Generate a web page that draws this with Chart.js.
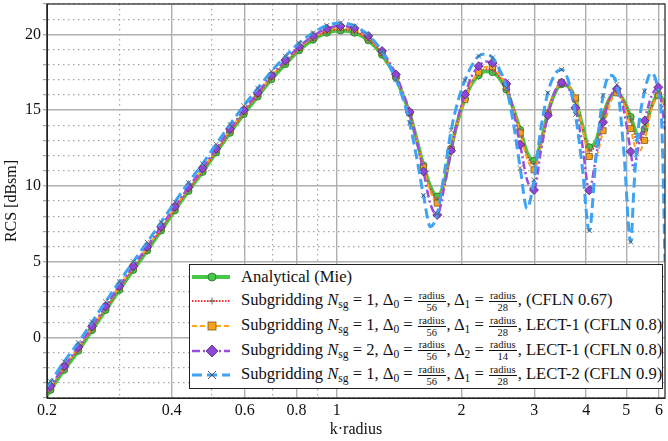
<!DOCTYPE html>
<html>
<head>
<meta charset="utf-8">
<script src="https://cdn.jsdelivr.net/npm/chart.js@4.4.1/dist/chart.umd.min.js"></script>
<style>
    body { margin: 0; background: #fff; }
    #wrap { position: relative; width: 668px; height: 441px; }
    #legend {
        position: absolute; left: 189px; top: 264px; width: 472px; height: 123px;
        border: 1.5px solid #222; background: #fff;
        font-family: "Liberation Serif", "Times New Roman", "DejaVu Serif", serif; font-size: 16.6px; color: #111;
    }
    .row { position: absolute; left: 0; height: 24px; display: flex; align-items: center; white-space: nowrap; }
    .row svg { margin-left: 2px; margin-right: 11px; flex: none; }
    .frac { display: inline-flex; flex-direction: column; align-items: center; font-size: 10.5px; line-height: 9px; vertical-align: middle; margin: 0 1px; }
    .frac .num { border-bottom: 0.8px solid #111; padding: 0 1px 1px; }
    .frac .den { padding-top: 1px; }
    sub { font-size: 11.5px; vertical-align: -3px; line-height: 0; }
</style>
</head>
<body>
<div id="wrap">
    <canvas id="rcs-chart" width="668" height="441"></canvas>
    <div id="legend"></div>
</div>
<script>
// k*radius sample points
const kr = [0.2, 0.204, 0.220, 0.238, 0.257, 0.277, 0.299, 0.323, 0.349, 0.377, 0.407, 0.439, 0.475, 0.512,
    0.553, 0.597, 0.645, 0.696, 0.752, 0.812, 0.877, 0.947, 1.022, 1.104, 1.192, 1.287, 1.390,
    1.444, 1.500, 1.559, 1.620, 1.684, 1.749, 1.818, 1.889, 1.963, 2.040, 2.120, 2.202, 2.289, 2.378,
    2.471, 2.568, 2.668, 2.773, 2.881, 2.994, 3.111, 3.233, 3.359, 3.491, 3.627, 3.769, 3.917, 4.070,
    4.229, 4.395, 4.566, 4.745, 4.931, 5.124, 5.220, 5.324, 5.533, 5.749, 5.974, 6.090, 6.200];

const mie = [-3.85, -3.47, -2.15, -0.89, 0.48, 1.80, 3.13, 4.45, 5.73, 7.05, 8.38, 9.66, 10.92, 12.20,
    13.50, 14.74, 15.89, 17.03, 18.03, 18.94, 19.64, 20.10, 20.25, 20.10, 19.60, 18.65, 17.15,
    16.0, 14.8, 13.1, 11.35, 9.95, 9.3, 10.2, 12.45, 14.35, 15.75, 16.75, 17.3, 17.55, 17.5,
    17.1, 16.35, 15.1, 13.7, 12.2, 11.65, 12.9, 14.8, 16.1, 16.7, 16.55, 15.7, 14.0, 12.55,
    13.0, 14.65, 15.8, 16.2, 15.6, 14.55, 13.9, 13.35, 13.75, 15.2, 16.0, 15.8, 15.4];

const sgCfln067 = [-3.77, -3.39, -2.07, -0.81, 0.56, 1.88, 3.21, 4.53, 5.81, 7.13, 8.46, 9.74, 11.0, 12.28,
    13.58, 14.82, 15.97, 17.11, 18.11, 19.02, 19.72, 20.18, 20.33, 20.18, 19.66, 18.7, 17.18,
    16.0, 14.8, 13.05, 11.3, 9.8, 9.1, 10.1, 12.4, 14.35, 15.8, 16.85, 17.45, 17.7, 17.65,
    17.2, 16.4, 15.1, 13.6, 12.0, 11.45, 12.8, 14.8, 16.15, 16.75, 16.6, 15.75, 13.9, 12.3,
    12.8, 14.6, 15.85, 16.25, 15.6, 14.4, 13.5, 12.8, 13.6, 15.2, 16.0, 15.7, 15.2];

const sgLect1 = [-3.6, -3.27, -1.95, -0.69, 0.68, 2.0, 3.33, 4.65, 5.93, 7.25, 8.58, 9.86, 11.12, 12.4,
    13.7, 14.94, 16.09, 17.23, 18.23, 19.12, 19.8, 20.28, 20.45, 20.3, 19.78, 18.8, 17.25,
    16.1, 14.85, 13.1, 11.24, 9.6, 8.86, 10.0, 12.4, 14.35, 15.69, 16.85, 17.5, 17.85, 17.86,
    17.4, 16.5, 15.1, 13.49, 11.8, 11.06, 12.5, 14.8, 16.2, 16.8, 16.6, 15.8, 13.9, 11.94,
    12.0, 13.64, 15.4, 16.14, 15.4, 13.78, 12.8, 12.15, 13.0, 15.0, 16.0, 15.7, 15.1];

const sg2Lect1 = [-3.55, -3.22, -1.90, -0.64, 0.73, 2.05, 3.38, 4.70, 5.98, 7.30, 8.63, 9.91, 11.17, 12.45,
    13.75, 14.99, 16.14, 17.28, 18.28, 19.19, 19.89, 20.38, 20.55, 20.40, 19.89, 18.90, 17.35,
    16.2, 14.88, 13.0, 10.95, 8.8, 8.08, 9.9, 12.32, 14.5, 16.03, 17.25, 17.9, 18.2, 18.1,
    17.6, 16.73, 15.0, 12.72, 10.4, 9.72, 12.3, 14.65, 16.2, 16.82, 16.45, 15.15, 12.7, 9.7,
    12.0, 14.2, 15.8, 16.4, 15.0, 12.26, 11.06, 12.3, 14.3, 15.9, 16.5, 15.4, 13.7];

const sgLect2 = [-3.25, -2.92, -1.6, -0.34, 1.03, 2.35, 3.68, 5.0, 6.28, 7.6, 8.93, 10.21, 11.47, 12.75,
    14.05, 15.29, 16.44, 17.56, 18.55, 19.43, 20.1, 20.58, 20.75, 20.55, 19.95, 18.85, 17.0,
    15.8, 14.15, 11.9, 9.37, 7.3, 8.15, 10.8, 13.66, 15.6, 16.97, 17.95, 18.56, 18.7, 18.45,
    17.7, 16.47, 14.2, 11.18, 8.5, 10.4, 13.8, 16.14, 17.35, 17.68, 16.9, 14.7, 11.2, 7.05,
    12.0, 15.96, 17.3, 16.69, 12.3, 6.3, 10.0, 13.3, 16.24, 17.45, 16.2, 14.0, 5.0];

const xTicks = [0.2, 0.3, 0.4, 0.5, 0.6, 0.7, 0.8, 0.9, 1, 2, 3, 4, 5, 6];
const xLabels = [0.2, 0.4, 0.6, 0.8, 1, 2, 3, 4, 5, 6];

const frac = d => '<span class="frac"><span class="num">radius</span><span class="den">' + d + '</span></span>';
const nsg = n => 'Subgridding <i>N</i><sub>sg</sub> = ' + n;
const legendLabels = [
    'Analytical (Mie)',
    nsg(1) + ', Δ<sub>0</sub> = ' + frac(56) + ', Δ<sub>1</sub> = ' + frac(28) + ', (CFLN 0.67)',
    nsg(1) + ', Δ<sub>0</sub> = ' + frac(56) + ', Δ<sub>1</sub> = ' + frac(28) + ', LECT-1 (CFLN 0.8)',
    nsg(2) + ', Δ<sub>0</sub> = ' + frac(56) + ', Δ<sub>2</sub> = ' + frac(14) + ', LECT-1 (CFLN 0.8)',
    nsg(1) + ', Δ<sub>0</sub> = ' + frac(56) + ', Δ<sub>1</sub> = ' + frac(28) + ', LECT-2 (CFLN 0.9)'
];

// markers sit on every 1/30 decade, starting at 0.204
function isMarker(x) {
    const k = Math.log10(x / 0.204) * 30;
    return Math.abs(k - Math.round(k)) < 0.1 && x < 6.1;
}

const seriesStyle = [
    { data: mie, color: '#46c946', width: 3.8, dash: [], marker: 'circle', fill: '#46c946', edge: '#2d6b2d', r: 3.5 },
    { data: sgCfln067, color: '#ff3030', width: 2, dash: [1.5, 1.5], marker: 'cross', fill: '#666', edge: '#666', r: 3.5 },
    { data: sgLect1, color: '#ffa31a', width: 2, dash: [5, 3], marker: 'rect', fill: '#f7a21b', edge: '#7a5a20', r: 4.3 },
    { data: sg2Lect1, color: '#9a4ee0', width: 2.5, dash: [8, 3, 2, 3], marker: 'rectRot', fill: '#8f45d6', edge: '#4a2a6a', r: 4.5 },
    { data: sgLect2, color: '#3ea2f5', width: 3, dash: [10, 5], marker: 'crossRot', fill: '#555', edge: '#555', r: 3.5 }
];

const datasets = seriesStyle.map((s, i) => ({
    data: kr.map((x, j) => ({ x: x, y: s.data[j] })),
    borderColor: s.color,
    borderWidth: s.width,
    borderDash: s.dash,
    cubicInterpolationMode: 'monotone',
    pointStyle: s.marker,
    pointBackgroundColor: s.fill,
    pointBorderColor: s.edge,
    pointBorderWidth: 0.8,
    pointRadius: ctx => isMarker(kr[ctx.dataIndex]) ? s.r : 0,
    order: seriesStyle.length - i
}));

const frameBox = {
    id: 'frameBox',
    afterDatasetsDraw(chart) {
        const a = chart.chartArea;
        const c = chart.ctx;
        c.save();
        c.strokeStyle = '#222';
        c.lineWidth = 1.2;
        c.strokeRect(a.left, a.top, a.right - a.left, a.bottom - a.top);
        c.restore();
    }
};

const font = { family: '"Liberation Serif", "Times New Roman", "DejaVu Serif", serif', size: 16 };

new Chart(document.getElementById('rcs-chart'), {
    type: 'line',
    data: { datasets: datasets },
    plugins: [frameBox],
    options: {
        responsive: false,
        animation: false,
        layout: { padding: { top: 4, right: 3, left: 0, bottom: 0 } },
        plugins: { legend: { display: false }, tooltip: { enabled: false } },
        scales: {
            x: {
                type: 'logarithmic',
                min: 0.2,
                max: 6.2,
                afterBuildTicks: scale => { scale.ticks = xTicks.map(v => ({ value: v })); },
                afterFit: scale => { scale.height = 43; },
                ticks: {
                    autoSkip: false, maxRotation: 0, padding: 3, color: '#111', font: font,
                    callback: v => xLabels.includes(v) ? String(v) : ''
                },
                grid: {
                    drawTicks: false,
                    color: ctx => xLabels.includes(ctx.tick && ctx.tick.value) ? '#b0b0b0' : '#a6a6a6',
                    lineWidth: ctx => xLabels.includes(ctx.tick && ctx.tick.value) ? 1.4 : 1.2
                },
                border: {
                    color: '#222',
                    dash: ctx => (ctx.tick && !xLabels.includes(ctx.tick.value)) ? [1.5, 3.5] : []
                },
                title: { display: true, text: 'k·radius', color: '#111', font: font, padding: { top: 0, bottom: 2 } }
            },
            y: {
                min: -4,
                max: 22,
                afterFit: scale => { scale.width = 47; scale.paddingTop = 0; },
                ticks: {
                    stepSize: 1, autoSkip: false, padding: 2, color: '#111', font: font,
                    callback: v => v % 5 === 0 ? String(v) : ''
                },
                grid: {
                    tickLength: 4,
                    color: ctx => (ctx.tick && ctx.tick.value % 5 === 0) ? '#b0b0b0' : '#a6a6a6',
                    lineWidth: ctx => (ctx.tick && ctx.tick.value % 5 === 0) ? 1.4 : 1.2
                },
                border: {
                    color: '#222',
                    dash: ctx => (ctx.tick && ctx.tick.value % 5 !== 0) ? [1.5, 3.5] : []
                },
                title: { display: true, text: 'RCS [dBsm]', color: '#111', font: font, padding: { top: 2, bottom: 0 } }
            }
        }
    }
});

// legend with line samples and math labels
const legendBox = document.getElementById('legend');
seriesStyle.forEach((s, i) => {
    const row = document.createElement('div');
    row.className = 'row';
    row.style.top = (-0.5 + 24.7 * i) + 'px';
    const mk = {
        circle: '<circle cx="20" cy="10" r="4" fill="' + s.fill + '" stroke="' + s.edge + '" stroke-width="0.8"/>',
        cross: '<path d="M20 6.5V13.5M16.5 10H23.5" stroke="' + s.edge + '" stroke-width="1"/>',
        rect: '<rect x="16" y="6" width="8" height="8" fill="' + s.fill + '" stroke="' + s.edge + '" stroke-width="0.8"/>',
        rectRot: '<path d="M20 4L26 10L20 16L14 10Z" fill="' + s.fill + '" stroke="' + s.edge + '" stroke-width="0.8"/>',
        crossRot: '<path d="M16 6L24 14M16 14L24 6" stroke="' + s.edge + '" stroke-width="1"/>'
    }[s.marker];
    row.innerHTML = '<svg width="38" height="20"><line x1="0" y1="10" x2="38" y2="10" stroke="' + s.color +
        '" stroke-width="' + s.width + '" stroke-dasharray="' + (s.dash.length ? s.dash.join(' ') : 'none') + '"/>' + mk +
        '</svg><span>' + legendLabels[i] + '</span>';
    legendBox.appendChild(row);
});
</script>
</body>
</html>
